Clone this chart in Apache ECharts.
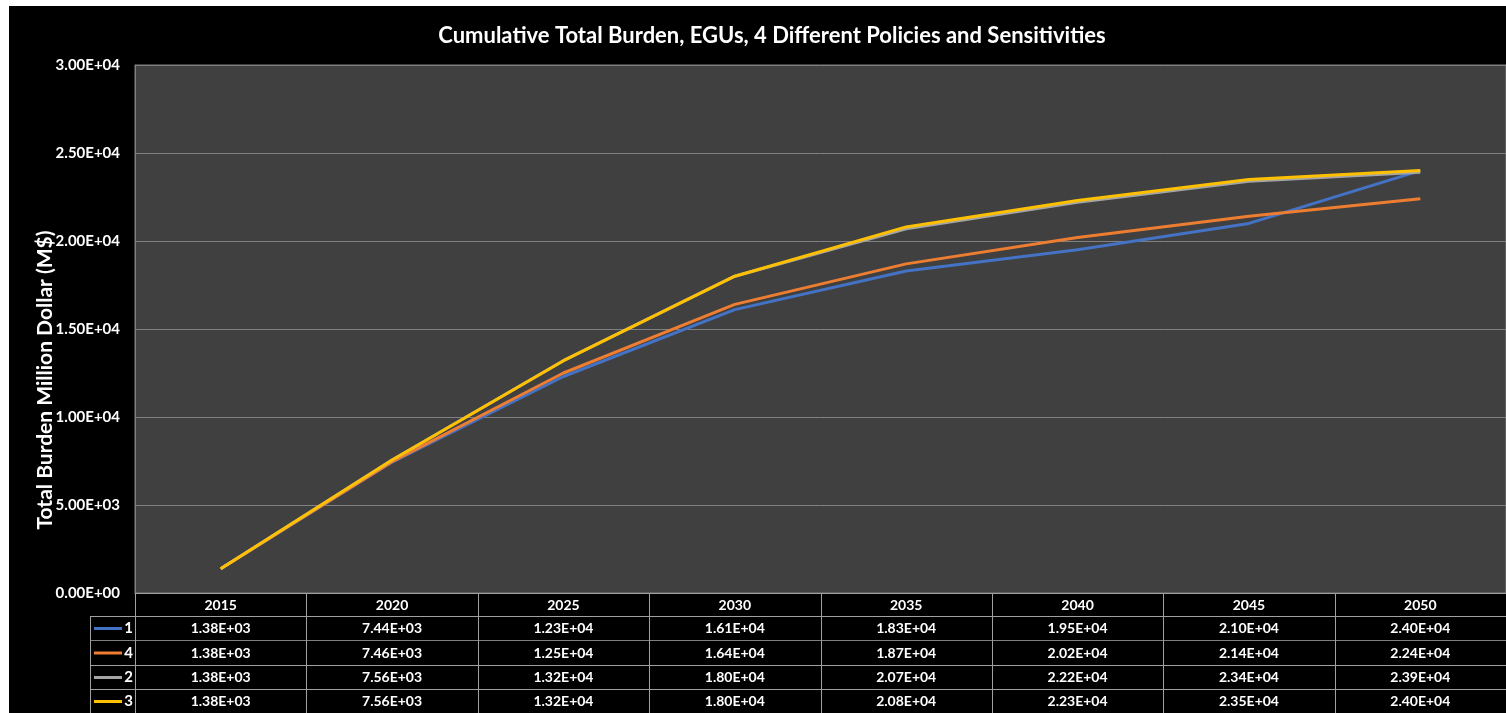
<!DOCTYPE html>
<html>
<head>
<meta charset="utf-8">
<script src="https://cdn.jsdelivr.net/npm/echarts@6/dist/echarts.min.js"></script>
<style>
  html, body { margin: 0; padding: 0; background: #fff; }
  #chart { position: absolute; left: 9px; top: 6px; width: 1497px; height: 707px; }
</style>
</head>
<body>
<div id="chart"></div>
<script>
const years = ['2015', '2020', '2025', '2030', '2035', '2040', '2045', '2050'];
const seriesNames = ['1', '4', '2', '3'];
const seriesColors = ['#4472C4', '#ED7D31', '#A5A5A5', '#FFC000'];
const s1 = [1380, 7440, 12300, 16100, 18300, 19500, 21000, 24000];
const s4 = [1380, 7460, 12500, 16400, 18700, 20200, 21400, 22400];
const s2 = [1380, 7560, 13200, 18000, 20700, 22200, 23400, 23900];
const s3 = [1380, 7560, 13200, 18000, 20800, 22300, 23500, 24000];
const seriesData = [s1, s4, s2, s3];

const FONT = 'Lato, "Open Sans", sans-serif';

function sci(v) {
  const [m, e] = Number(v).toExponential(2).split('e');
  const n = parseInt(e, 10);
  return m + 'E' + (n < 0 ? '-' : '+') + String(Math.abs(n)).padStart(2, '0');
}

const chart = echarts.init(document.getElementById('chart'));

// layout of the plot + data table (container px)
const gridLeft = 126, gridTop = 59, gridRight = 1497, gridBottom = 587;
const rowLines = [610, 634, 659, 683, 707];
const colW = (gridRight - gridLeft) / years.length;
const legendLeft = 81;
const lineColor = '#a0a0a0';

const graphics = [];
// y axis title
graphics.push({
  type: 'text', x: 36, y: 374, rotation: Math.PI / 2,
  style: { text: 'Total Burden Million Dollar (M$)', fill: '#fff', font: 'bold 21px ' + FONT, align: 'center', verticalAlign: 'middle' }
});
// table horizontal lines
rowLines.slice(0, 4).forEach((y, i) => {
  graphics.push({ type: 'line', shape: { x1: legendLeft, y1: y + 0.5, x2: gridRight, y2: y + 0.5 },
    style: { stroke: i === 1 ? '#7f7f7f' : lineColor, lineWidth: 1 } });
});
// table vertical lines
for (let k = 0; k < years.length; k++) {
  const x = Math.round(gridLeft + k * colW) + 0.5;
  graphics.push({ type: 'line', shape: { x1: x, y1: gridBottom, x2: x, y2: 707 }, style: { stroke: lineColor, lineWidth: 1 } });
}
graphics.push({ type: 'line', shape: { x1: legendLeft + 0.5, y1: rowLines[0], x2: legendLeft + 0.5, y2: 707 }, style: { stroke: lineColor, lineWidth: 1 } });
// table rows
seriesData.forEach((row, r) => {
  const yc = (rowLines[r] + rowLines[r + 1]) / 2 + 0.5;
  graphics.push({ type: 'line', shape: { x1: 85, y1: yc, x2: 113, y2: yc }, style: { stroke: seriesColors[r], lineWidth: 3 } });
  graphics.push({ type: 'text', x: 124, y: yc,
    style: { text: seriesNames[r], fill: '#fff', font: 'bold 15px ' + FONT, align: 'right', verticalAlign: 'middle' } });
  row.forEach((v, i) => {
    graphics.push({ type: 'text', x: gridLeft + colW * (i + 0.5), y: yc,
      style: { text: sci(v), fill: '#fff', font: 'bold 14px ' + FONT, align: 'center', verticalAlign: 'middle' } });
  });
});

chart.setOption({
  backgroundColor: '#000',
  animation: false,
  title: {
    text: 'Cumulative Total Burden, EGUs, 4 Different Policies and Sensitivities',
    left: 758, top: 14, textAlign: 'center',
    textStyle: { color: '#fff', fontSize: 22, fontWeight: 'bold', fontFamily: FONT }
  },
  grid: {
    left: gridLeft, top: gridTop, right: 0, bottom: 707 - gridBottom,
    show: true, backgroundColor: '#404040', borderColor: '#808080', borderWidth: 1
  },
  xAxis: {
    type: 'category', data: years, boundaryGap: true,
    axisLine: { lineStyle: { color: lineColor } },
    axisTick: { show: false },
    axisLabel: { color: '#fff', fontSize: 14, fontWeight: 'bold', fontFamily: FONT, margin: 5 }
  },
  yAxis: {
    type: 'value', min: 0, max: 30000, interval: 5000,
    axisLine: { show: true, lineStyle: { color: '#808080' } },
    axisTick: { show: false },
    splitLine: { lineStyle: { color: '#808080', width: 1 } },
    axisLabel: { color: '#fff', fontSize: 15, fontWeight: 'bold', fontFamily: FONT, margin: 15, formatter: sci }
  },
  series: seriesData.map((d, i) => ({
    name: seriesNames[i], type: 'line', data: d, showSymbol: false, symbol: 'none',
    lineStyle: { color: seriesColors[i], width: 3 }, itemStyle: { color: seriesColors[i] }
  })),
  graphic: graphics
});
</script>
</body>
</html>
